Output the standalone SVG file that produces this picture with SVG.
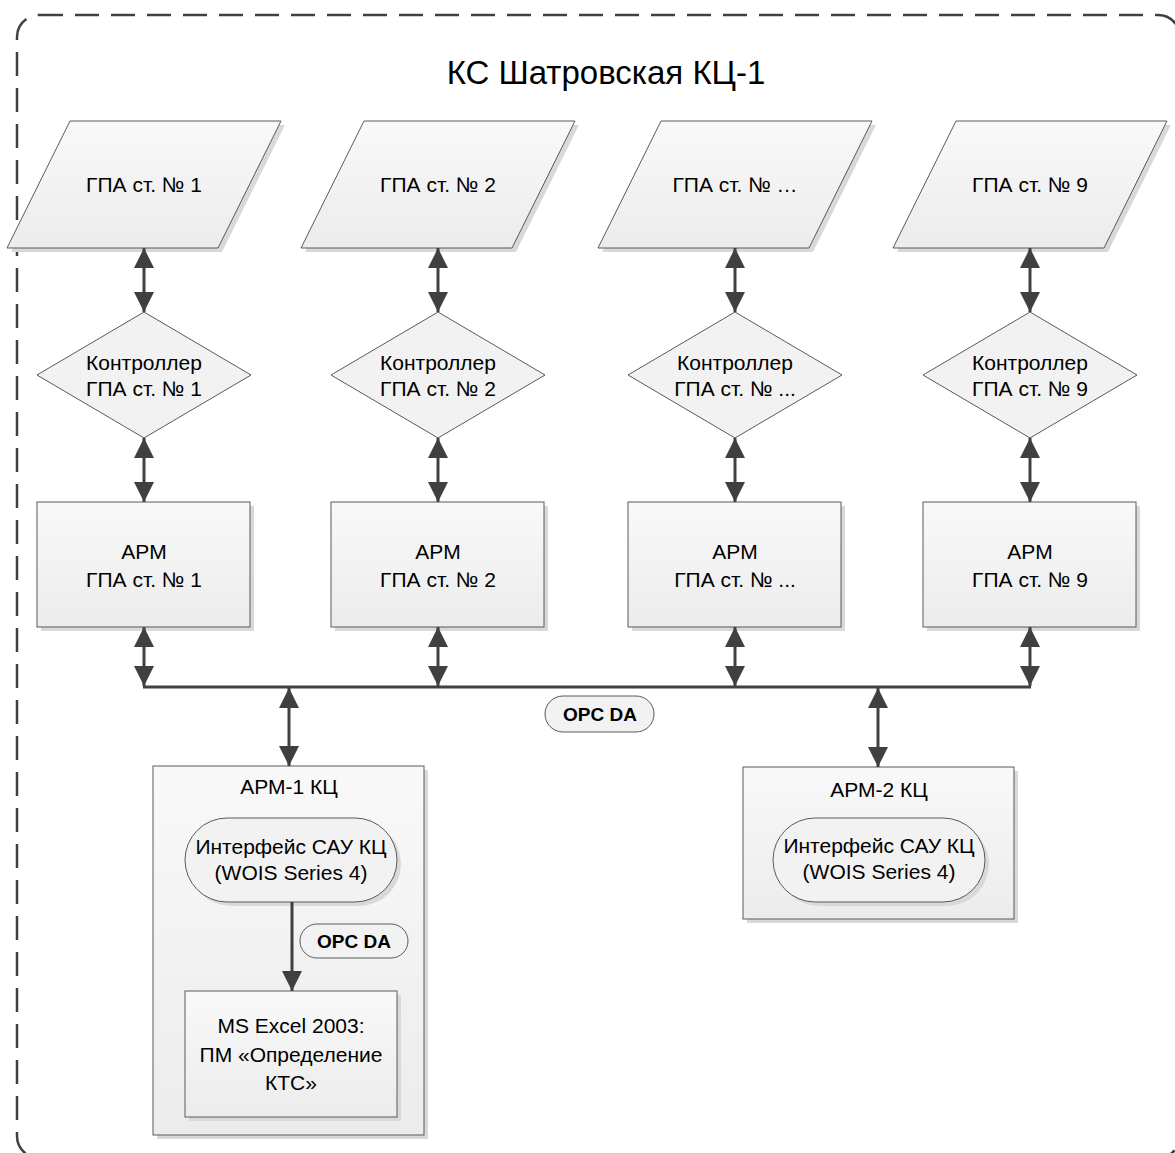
<svg xmlns="http://www.w3.org/2000/svg" width="1175" height="1153" viewBox="0 0 1175 1153">
  <defs>
    <linearGradient id="fillGrad" x1="0" y1="0" x2="0" y2="1">
      <stop offset="0" stop-color="#f9f9f9"/>
      <stop offset="1" stop-color="#ececec"/>
    </linearGradient>
    <marker id="arrow" viewBox="0 0 20 20" refX="20" refY="10" markerWidth="20" markerHeight="20" markerUnits="userSpaceOnUse" orient="auto-start-reverse">
      <path d="M0,0 L20,10 L0,20 z" fill="#404040"/>
    </marker>
  </defs>
  <style>
    text { font-family: "Liberation Sans", Arial, sans-serif; font-size: 21px; fill: #000; text-anchor: middle; }
    .title { font-size: 33px; }
    .bold { font-weight: bold; font-size: 19px; }
    .shape { fill: url(#fillGrad); stroke: #5a5a5a; stroke-width: 1; }
    .plain { fill: #f2f2f2; stroke: #5a5a5a; stroke-width: 1; }
    .shadow { fill: #d9d9d9; stroke: none; }
    .frame { fill: none; stroke: #404040; stroke-width: 2.5; stroke-dasharray: 24 12; }
    .link { fill: none; stroke: #404040; stroke-width: 3; }
    .both { marker-start: url(#arrow); marker-end: url(#arrow); }
    .one { marker-end: url(#arrow); }
  </style>

  <rect width="1175" height="1153" fill="#ffffff"/>

  <!-- station boundary -->
  <g id="station">
    <rect class="frame" x="17" y="15" width="1163" height="1143" rx="22" ry="22"/>
    <text class="title" x="606" y="84">КС Шатровская КЦ-1</text>
  </g>

  <!-- unit inputs (parallelograms) -->
  <g id="gpa1">
    <polygon class="shadow" points="74,125 285,125 222,252 11,252"/>
    <polygon class="shape" points="70,121 281,121 218,248 7,248"/>
    <text x="144" y="192">ГПА ст. № 1</text>
  </g>
  <g id="gpa2">
    <polygon class="shadow" points="368,125 579,125 516,252 305,252"/>
    <polygon class="shape" points="364,121 575,121 512,248 301,248"/>
    <text x="438" y="192">ГПА ст. № 2</text>
  </g>
  <g id="gpa3">
    <polygon class="shadow" points="665,125 876,125 813,252 602,252"/>
    <polygon class="shape" points="661,121 872,121 809,248 598,248"/>
    <text x="735" y="192">ГПА ст. № …</text>
  </g>
  <g id="gpa9">
    <polygon class="shadow" points="960,125 1171,125 1108,252 897,252"/>
    <polygon class="shape" points="956,121 1167,121 1104,248 893,248"/>
    <text x="1030" y="192">ГПА ст. № 9</text>
  </g>

  <!-- controllers (diamonds) -->
  <g id="ctrl1">
    <polygon class="plain" points="144,312 251,375 144,438 37,375"/>
    <text x="144" y="370">Контроллер</text>
    <text x="144" y="396">ГПА ст. № 1</text>
  </g>
  <g id="ctrl2">
    <polygon class="plain" points="438,312 545,375 438,438 331,375"/>
    <text x="438" y="370">Контроллер</text>
    <text x="438" y="396">ГПА ст. № 2</text>
  </g>
  <g id="ctrl3">
    <polygon class="plain" points="735,312 842,375 735,438 628,375"/>
    <text x="735" y="370">Контроллер</text>
    <text x="735" y="396">ГПА ст. № ...</text>
  </g>
  <g id="ctrl9">
    <polygon class="plain" points="1030,312 1137,375 1030,438 923,375"/>
    <text x="1030" y="370">Контроллер</text>
    <text x="1030" y="396">ГПА ст. № 9</text>
  </g>

  <!-- unit workstations -->
  <g id="arm1">
    <rect class="shadow" x="41" y="506" width="213" height="125"/>
    <rect class="shape" x="37" y="502" width="213" height="125"/>
    <text x="144" y="559">АРМ</text>
    <text x="144" y="587">ГПА ст. № 1</text>
  </g>
  <g id="arm2">
    <rect class="shadow" x="335" y="506" width="213" height="125"/>
    <rect class="shape" x="331" y="502" width="213" height="125"/>
    <text x="438" y="559">АРМ</text>
    <text x="438" y="587">ГПА ст. № 2</text>
  </g>
  <g id="arm3">
    <rect class="shadow" x="632" y="506" width="213" height="125"/>
    <rect class="shape" x="628" y="502" width="213" height="125"/>
    <text x="735" y="559">АРМ</text>
    <text x="735" y="587">ГПА ст. № ...</text>
  </g>
  <g id="arm9">
    <rect class="shadow" x="927" y="506" width="213" height="125"/>
    <rect class="shape" x="923" y="502" width="213" height="125"/>
    <text x="1030" y="559">АРМ</text>
    <text x="1030" y="587">ГПА ст. № 9</text>
  </g>

  <!-- shop workstation 1 -->
  <g id="arm-kc1">
    <rect class="shadow" x="157" y="770" width="271" height="369"/>
    <rect class="shape" x="153" y="766" width="271" height="369"/>
    <text x="289" y="794">АРМ-1 КЦ</text>
  </g>
  <g id="wois1">
    <rect class="shadow" x="189" y="822" width="212" height="84" rx="42" ry="42"/>
    <rect class="plain" x="185" y="818" width="212" height="84" rx="42" ry="42"/>
    <text x="291" y="854">Интерфейс САУ КЦ</text>
    <text x="291" y="880">(WOIS Series 4)</text>
  </g>
  <g id="excel">
    <rect class="shadow" x="189" y="995" width="212" height="126"/>
    <rect class="shape" x="185" y="991" width="212" height="126"/>
    <text x="291" y="1033">MS Excel 2003:</text>
    <text x="291" y="1062">ПМ «Определение</text>
    <text x="291" y="1090">КТС»</text>
  </g>

  <!-- shop workstation 2 -->
  <g id="arm-kc2">
    <rect class="shadow" x="747" y="771" width="271" height="152"/>
    <rect class="shape" x="743" y="767" width="271" height="152"/>
    <text x="879" y="797">АРМ-2 КЦ</text>
  </g>
  <g id="wois2">
    <rect class="shadow" x="777" y="822" width="212" height="84" rx="42" ry="42"/>
    <rect class="plain" x="773" y="818" width="212" height="84" rx="42" ry="42"/>
    <text x="879" y="853">Интерфейс САУ КЦ</text>
    <text x="879" y="879">(WOIS Series 4)</text>
  </g>

  <!-- connectors -->
  <g id="connectors">
    <line class="link both" x1="144" y1="248" x2="144" y2="312"/>
    <line class="link both" x1="438" y1="248" x2="438" y2="312"/>
    <line class="link both" x1="735" y1="248" x2="735" y2="312"/>
    <line class="link both" x1="1030" y1="248" x2="1030" y2="312"/>

    <line class="link both" x1="144" y1="438" x2="144" y2="502"/>
    <line class="link both" x1="438" y1="438" x2="438" y2="502"/>
    <line class="link both" x1="735" y1="438" x2="735" y2="502"/>
    <line class="link both" x1="1030" y1="438" x2="1030" y2="502"/>

    <line class="link both" x1="144" y1="627" x2="144" y2="686"/>
    <line class="link both" x1="438" y1="627" x2="438" y2="686"/>
    <line class="link both" x1="735" y1="627" x2="735" y2="686"/>
    <line class="link both" x1="1030" y1="627" x2="1030" y2="686"/>

    <line class="link" x1="143" y1="687" x2="1031" y2="687"/>

    <line class="link both" x1="289" y1="688" x2="289" y2="766"/>
    <line class="link both" x1="878" y1="688" x2="878" y2="767"/>

    <line class="link one" x1="292" y1="902" x2="292" y2="991"/>
  </g>

  <!-- protocol labels -->
  <g id="opc-bus">
    <rect class="plain" x="545" y="696" width="109" height="36" rx="18" ry="18"/>
    <text class="bold" x="600" y="721">OPC DA</text>
  </g>
  <g id="opc-local">
    <rect class="plain" x="300" y="924" width="108" height="34" rx="17" ry="17"/>
    <text class="bold" x="354" y="948">OPC DA</text>
  </g>
</svg>
